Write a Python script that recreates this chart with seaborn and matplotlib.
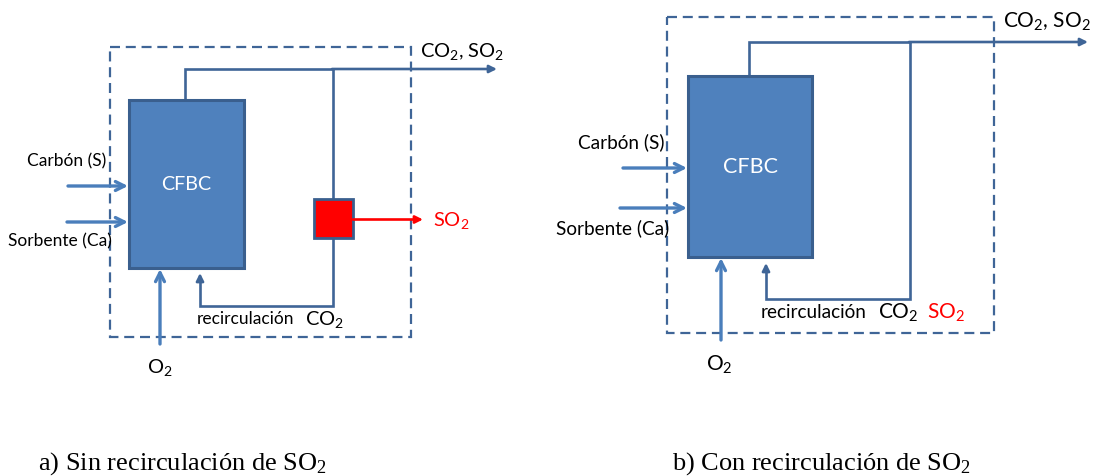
import matplotlib
matplotlib.use("Agg")
import matplotlib.pyplot as plt
from matplotlib.patches import Rectangle
import seaborn as sns
import pandas as pd

# ---- text content ----
reactor_label = "CFBC"
input_labels = ["Carbón (S)", "Sorbente (Ca)"]
oxidant_label = "O$_2$"
exhaust_label = "CO$_2$, SO$_2$"
recirc_label = "recirculación"
co2_label = "CO$_2$"
so2_label = "SO$_2$"
captions = ["a) Sin recirculación de SO$_2$", "b) Con recirculación de SO$_2$"]

sns.set_theme(style="white")
plt.rcParams["font.family"] = ["Lato", "DejaVu Sans"]
plt.rcParams["mathtext.default"] = "regular"

LINE = "#3F6597"
INPUT = "#4A7EBB"
FILL = "#4F81BD"
EDGE = "#3A5F8E"
RED = "#FF0000"

fig = plt.figure(figsize=(10.99, 4.76), dpi=100)
ax = fig.add_axes([0, 0, 1, 1])
ax.set_xlim(0, 1099)
ax.set_ylim(476, 0)
ax.axis("off")


def path(xs, ys, color=LINE, lw=1.9):
    df = pd.DataFrame({"x": xs, "y": ys})
    sns.lineplot(data=df, x="x", y="y", sort=False, estimator=None,
                 color=color, lw=lw, ax=ax, solid_joinstyle="miter")


def arrow(start, tip, style, color, lw, ms):
    ax.annotate("", xy=tip, xytext=start,
                arrowprops=dict(arrowstyle=style, color=color, lw=lw,
                                shrinkA=0, shrinkB=0, mutation_scale=ms))


def panel(g, recirc_so2):
    # dashed boundary
    ax.add_patch(Rectangle((g["bx"], g["by"]), g["bw"], g["bh"], fill=False,
                           ec=LINE, lw=1.6, ls=(0, (4.5, 2.6))))
    # reactor
    ax.add_patch(Rectangle((g["rx"], g["ry"]), g["rw"], g["rh"], fc=FILL,
                           ec=EDGE, lw=2.2, zorder=3))
    ax.text(g["rx"] + g["rw"] / 2, g["cfbc_y"], reactor_label, color="white",
            fontsize=g["fs_c"], ha="center", va="center", zorder=4)
    # exhaust
    path([g["sx"], g["sx"], g["vx"]], [g["ry"], g["ty"], g["ty"]])
    arrow((g["vx"] - 1, g["ty"]), (g["tip"], g["ty"]), "-|>", LINE, 1.9, 11)
    ax.text(g["ex_x"], g["ex_y"], exhaust_label, fontsize=g["fs_b"],
            ha="left", va="center", color="black")
    # recirculation loop
    if recirc_so2:
        path([g["vx"], g["vx"], g["lx"], g["lx"]],
             [g["ty"], g["ly"], g["ly"], g["lt"] + 6])
    else:
        path([g["vx"], g["vx"]], [g["ty"], g["sy0"]])
        path([g["vx"], g["vx"], g["lx"], g["lx"]],
             [g["sy1"], g["ly"], g["ly"], g["lt"] + 6])
        ax.add_patch(Rectangle((g["vx"] - 19, g["sy0"]), 39, g["sy1"] - g["sy0"],
                               fc=RED, ec=EDGE, lw=2.0, zorder=3))
        ym = (g["sy0"] + g["sy1"]) / 2 + 1
        arrow((g["vx"] + 20, ym), (g["so2_tip"], ym), "-|>", RED, 1.9, 11)
        ax.text(g["so2_tip"] + 10, ym + 1, so2_label, color=RED,
                fontsize=g["fs_b"], ha="left", va="center")
    arrow((g["lx"], g["lt"] + 8), (g["lx"], g["lt"]), "-|>", LINE, 1.9, 11)
    ax.text(g["rc_x"], g["rc_y"], recirc_label, fontsize=g["fs_s"],
            ha="left", va="center", color="black")
    ax.text(g["co2_x"], g["rc_y"], co2_label, fontsize=g["fs_b"],
            ha="left", va="center", color="black")
    if recirc_so2:
        ax.text(g["so2_x"], g["rc_y"], so2_label, fontsize=g["fs_b"],
                ha="left", va="center", color=RED)
    # inputs
    for lab, (x0, y0), (lx, ly) in zip(input_labels, g["inputs"], g["in_lab"]):
        arrow((x0, y0), (g["rx"] - 1, y0), "->", INPUT, 2.4, 16)
        ax.text(lx, ly, lab, fontsize=g["fs_s"], ha="center", va="center",
                color="black")
    arrow((g["ox"], g["oy"]), (g["ox"], g["ry"] + g["rh"] + 1), "->", INPUT, 2.4, 16)
    ax.text(g["o2_x"], g["o2_y"], oxidant_label, fontsize=g["fs_b"],
            ha="left", va="center", color="black")


geom_a = dict(bx=110, by=47, bw=301, bh=290,
              rx=129, ry=100, rw=115, rh=168, cfbc_y=185, fs_c=14.2,
              sx=185, ty=69, vx=333, tip=497, ex_x=420, ex_y=51,
              sy0=199, sy1=238, so2_tip=423,
              lx=200, ly=306, lt=273,
              rc_x=197, rc_y=319, co2_x=305, so2_x=0,
              inputs=[(68, 186), (67, 222)], in_lab=[(67, 161), (60, 241)],
              ox=160, oy=344, o2_x=147, o2_y=368,
              fs_s=12.5, fs_b=14.4)
geom_b = dict(bx=667, by=17, bw=327, bh=316,
              rx=688, ry=76, rw=124, rh=181, cfbc_y=167, fs_c=15.5,
              sx=749, ty=42, vx=910, tip=1088, ex_x=1003, ex_y=22,
              lx=766, ly=299, lt=263,
              rc_x=761, rc_y=313, co2_x=878, so2_x=927,
              inputs=[(623, 168), (620, 208)], in_lab=[(621, 142), (613, 228)],
              ox=721, oy=340, o2_x=706, o2_y=365,
              fs_s=13.7, fs_b=15)

panel(geom_a, False)
panel(geom_b, True)

for cap, x in zip(captions, [38, 672]):
    ax.text(x, 470, cap, fontsize=19, ha="left", va="baseline",
            family=["Liberation Serif", "DejaVu Serif"], color="black")

fig.savefig("out.png", dpi=100)
